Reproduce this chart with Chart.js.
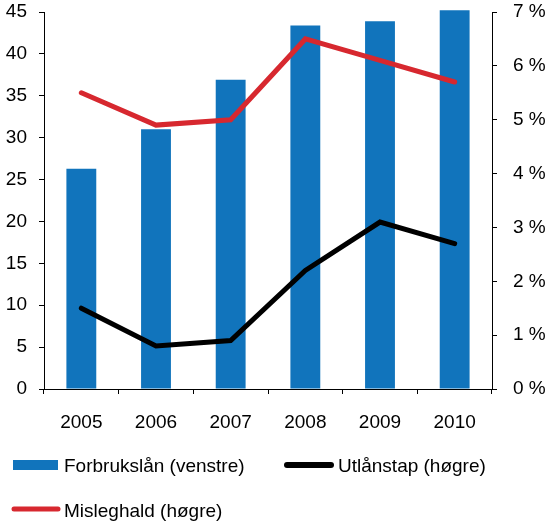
<!doctype html>
<html>
<head>
<meta charset="utf-8">
<script src="https://cdn.jsdelivr.net/npm/chart.js"></script>
<style>
body { margin: 0; background: #fff; }
#wrap { width: 550px; height: 524px; }
</style>
</head>
<body>
<div id="wrap"><canvas id="chart"></canvas></div>
<script>
	// data
	var years = ['2005', '2006', '2007', '2008', '2009', '2010'];
	var forbrukslan = [26.3, 31.0, 36.9, 43.4, 43.9, 45.2];   // left axis
	var utlanstap = [1.5, 0.8, 0.9, 2.2, 3.1, 2.7];           // right axis, %
	var misleghald = [5.5, 4.9, 5.0, 6.5, 6.1, 5.7];          // right axis, %

	var blue = '#1174bc';
	var red = '#d7282f';
	var black = '#000000';
	var font = { family: '"Liberation Sans", Arial, sans-serif', size: 19 };

	// legend drawn by hand so it sits like the original (two rows, left aligned)
	var legendPlugin = {
		id: 'customLegend',
		afterDraw: function (chart) {
			var c = chart.ctx;
			var ds = chart.data.datasets;
			c.save();
			c.font = font.size + 'px ' + font.family;
			c.fillStyle = '#000';
			c.textBaseline = 'alphabetic';
			c.textAlign = 'left';

			// row 1: bar item
			c.fillStyle = blue;
			c.fillRect(13, 460, 45, 10);
			c.fillStyle = '#000';
			c.fillText(ds[2].label, 64, 471.5);

			// row 1: black line
			c.lineCap = 'round';
			c.lineWidth = 6;
			c.strokeStyle = black;
			c.beginPath(); c.moveTo(287, 465); c.lineTo(331, 465); c.stroke();
			c.fillText(ds[1].label, 338, 471.5);

			// row 2: red line
			c.strokeStyle = red;
			c.lineWidth = 5;
			c.beginPath(); c.moveTo(14, 509); c.lineTo(58, 509); c.stroke();
			c.fillText(ds[0].label, 64, 516.5);
			c.restore();
		}
	};

	function noPad(s) {
		s.paddingTop = 0;
		s.paddingBottom = 0;
	}

	var chart = new Chart(document.getElementById('chart'), {
		type: 'bar',
		data: {
			labels: years,
			datasets: [
				{
					type: 'line',
					label: 'Misleghald (høgre)',
					data: misleghald,
					yAxisID: 'y2',
					borderColor: red,
					backgroundColor: red,
					borderWidth: 5,
					pointRadius: 0,
					tension: 0,
					borderCapStyle: 'round',
					order: 1
				},
				{
					type: 'line',
					label: 'Utlånstap (høgre)',
					data: utlanstap,
					yAxisID: 'y2',
					borderColor: black,
					backgroundColor: black,
					borderWidth: 5,
					pointRadius: 0,
					tension: 0,
					borderCapStyle: 'round',
					order: 2
				},
				{
					label: 'Forbrukslån (venstre)',
					data: forbrukslan,
					yAxisID: 'y',
					backgroundColor: blue,
					borderWidth: 0,
					categoryPercentage: 1.0,
					barPercentage: 0.4,
					clip: false,
					order: 3
				}
			]
		},
		options: {
			responsive: true,
			maintainAspectRatio: false,
			animation: false,
			layout: { padding: { top: 12, bottom: 95, left: 0, right: 0 } },
			plugins: {
				legend: { display: false },
				tooltip: { enabled: false }
			},
			scales: {
				x: {
					offset: true,
					grid: { offset: true, drawOnChartArea: false, drawTicks: true, tickLength: 5, color: '#000' },
					border: { display: true, color: '#000', width: 1 },
					ticks: { color: '#000', font: font, padding: 17, maxRotation: 0 },
					afterFit: function (s) { s.height = 40; s.paddingLeft = 0; s.paddingRight = 0; }
				},
				y: {
					position: 'left',
					min: 0,
					max: 45,
					ticks: { stepSize: 5, color: '#000', font: font, padding: 12 },
					grid: { drawOnChartArea: false, drawTicks: true, tickLength: 5, color: '#000' },
					border: { display: true, color: '#000', width: 1 },
					afterFit: function (s) { s.width = 44; noPad(s); }
				},
				y2: {
					position: 'right',
					min: 0,
					max: 7,
					ticks: {
						stepSize: 1,
						color: '#000',
						font: font,
						padding: 16,
						callback: function (v) { return v + ' %'; }
					},
					grid: { drawOnChartArea: false, drawTicks: true, tickLength: 5, color: '#000' },
					border: { display: true, color: '#000', width: 1 },
					afterFit: function (s) { s.width = 58; noPad(s); }
				}
			}
		},
		plugins: [legendPlugin]
	});
</script>
</body>
</html>
